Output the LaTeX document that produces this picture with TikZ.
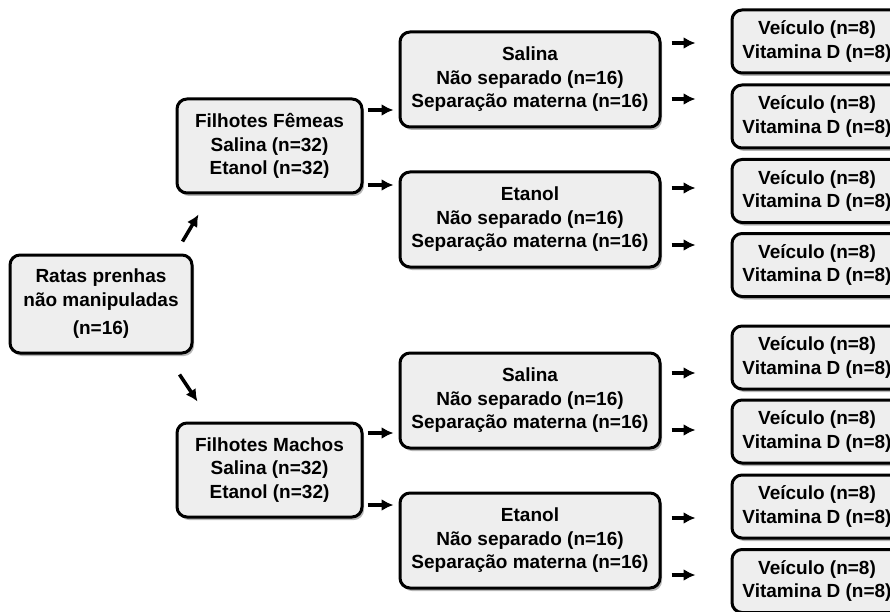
\documentclass[tikz,border=0pt]{standalone}
\usepackage{fontspec}
\setmainfont{Liberation Sans}
\usetikzlibrary{arrows.meta,calc,shadows}
\definecolor{boxfill}{RGB}{238,238,238}
\tikzset{%
  box/.style={draw,line width=3pt,rounded corners=10pt,fill=boxfill,align=center,inner sep=2pt,
    font=\bfseries\fontsize{19}{23.5}\selectfont,
    drop shadow={shadow xshift=2pt,shadow yshift=-3pt,opacity=0.4,fill=black!70}},
  group/.style={box,minimum width=185pt,minimum height=94pt},
  treat/.style={box,minimum width=260pt,minimum height=95pt},
  dose/.style={box,minimum width=170pt,minimum height=63pt},
  arrow/.style={-{Latex[length=12pt,width=12pt]},line width=3.5pt}%
}

\begin{document}
\begin{tikzpicture}[x=1pt,y=-1pt]
\useasboundingbox (0,0) rectangle (890,612);

% Source and litters
\node[group,minimum width=182pt,minimum height=98pt] (ratas) at (101,304) {Ratas prenhas\\não manipuladas\\[5pt](n=16)};
\node[group] (fem) at (269.5,146) {Filhotes Fêmeas\\Salina (n=32)\\Etanol (n=32)};
\node[group] (mach) at (269.5,470) {Filhotes Machos\\Salina (n=32)\\Etanol (n=32)};

\draw[arrow] ($(ratas.north east)+(-11,-12)$) -- ($(fem.south west)+(23,20)$);
\draw[arrow] ($(ratas.south east)+(-14,20)$) -- ($(mach.north west)+(22,-20)$);

% Treatment groups
\node[treat] (sal1) at (530,79.5) {Salina\\Não separado (n=16)\\Separação materna (n=16)};
\node[treat] (eta1) at (530,219.5) {Etanol\\Não separado (n=16)\\Separação materna (n=16)};
\node[treat] (sal2) at (530,400.5) {Salina\\Não separado (n=16)\\Separação materna (n=16)};
\node[treat] (eta2) at (530,540.5) {Etanol\\Não separado (n=16)\\Separação materna (n=16)};

\foreach \src/\dst/\y in {fem/sal1/110, fem/eta1/185, mach/sal2/433, mach/eta2/505}
  \draw[arrow,shorten <=4pt,shorten >=5pt] (\src.east |- 0,\y) -- (\dst.west |- 0,\y);

% Vehicle / vitamin D
\foreach \y [count=\i] in {41.5,116.5,191,265,357.5,431.5,506.5,581}
  \node[dose] (v\i) at (817,\y) {Veículo (n=8)\\Vitamina D (n=8)};

\foreach \src/\dst/\y in {sal1/v1/43, sal1/v2/99, eta1/v3/188, eta1/v4/245, sal2/v5/373, sal2/v6/430, eta2/v7/518, eta2/v8/575}
  \draw[arrow,shorten <=10pt,shorten >=35pt] (\src.east |- 0,\y) -- (\dst.west |- 0,\y);

\end{tikzpicture}
\end{document}
